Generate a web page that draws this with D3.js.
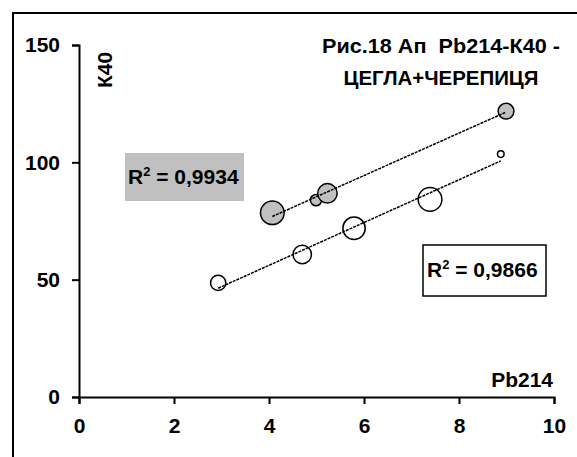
<!DOCTYPE html>
<html>
<head>
<meta charset="utf-8">
<script src="https://cdn.jsdelivr.net/npm/d3@7"></script>
<style>
  body { margin: 0; background: #fff; }
  text { font-family: "Liberation Sans", Arial, sans-serif; font-weight: bold; fill: #000; white-space: pre; }
</style>
</head>
<body>
<svg width="577" height="457"></svg>
<script>
// brick + tile series (grey bubbles)
var greyX = [4.07, 4.99, 5.23, 8.99];
var greyY = [78.5, 83.9, 86.8, 121.8];
var greySize = [140, 32, 95, 62];
// open bubbles
var openX = [2.93, 4.70, 5.79, 7.39, 8.88];
var openY = [48.6, 60.7, 71.9, 84.2, 103.5];
var openSize = [58, 85, 125, 140, 11];

var xTicks = [0, 2, 4, 6, 8, 10];
var yTicks = [0, 50, 100, 150];
var titleLines = ["Рис.18 Ап  Pb214-К40 -", "ЦЕГЛА+ЧЕРЕПИЦЯ"];
var r2Grey = "0,9934", r2Open = "0,9866";

var svg = d3.select("svg");

// outer chart frame (cut off at right/bottom)
svg.append("rect")
  .attr("x", 13).attr("y", 13).attr("width", 600).attr("height", 500)
  .attr("fill", "#fff").attr("stroke", "#000").attr("stroke-width", 2);

var x = d3.scaleLinear().domain([0, 10]).range([79, 554]);
var y = d3.scaleLinear().domain([0, 150]).range([397, 45]);
var r = d3.scaleSqrt().domain([0, 144]).range([0, 12]);

var xAxis = svg.append("g")
  .attr("transform", "translate(0,397)")
  .call(d3.axisBottom(x).tickValues(xTicks).tickSize(7).tickPadding(14).tickSizeOuter(7));
var yAxis = svg.append("g")
  .attr("transform", "translate(79,0)")
  .call(d3.axisLeft(y).tickValues(yTicks).tickSize(7).tickPadding(12).tickSizeOuter(7));

[xAxis, yAxis].forEach(function(g) {
  g.select(".domain").attr("stroke", "#000").attr("stroke-width", 2);
  g.selectAll(".tick line").attr("stroke", "#000").attr("stroke-width", 2);
  g.selectAll(".tick text").attr("font-size", 21).attr("font-family", "Liberation Sans, Arial, sans-serif")
    .attr("font-weight", "bold").attr("fill", "#000");
});

// least squares trend line
function trend(xs, ys) {
  var mx = d3.mean(xs), my = d3.mean(ys);
  var sxy = d3.sum(xs, function(v, i) { return (v - mx) * (ys[i] - my); });
  var sxx = d3.sum(xs, function(v) { return (v - mx) * (v - mx); });
  var b = sxy / sxx, a = my - b * mx;
  var ext = d3.extent(xs);
  return ext.map(function(v) { return [v, a + b * v]; });
}

function bubbles(xs, ys, sizes, fill) {
  svg.append("g").selectAll("circle")
    .data(xs.map(function(v, i) { return {x: v, y: ys[i], s: sizes[i]}; }))
    .join("circle")
    .attr("cx", function(d) { return x(d.x); })
    .attr("cy", function(d) { return y(d.y); })
    .attr("r", function(d) { return r(d.s); })
    .attr("fill", fill).attr("stroke", "#000").attr("stroke-width", 1.5);
}

bubbles(greyX, greyY, greySize, "#c0c0c0");
bubbles(openX, openY, openSize, "#fff");

var line = d3.line().x(function(d) { return x(d[0]); }).y(function(d) { return y(d[1]); });
[trend(greyX, greyY), trend(openX, openY)].forEach(function(t) {
  svg.append("path").attr("d", line(t))
    .attr("fill", "none").attr("stroke", "#000").attr("stroke-width", 1.5)
    .attr("stroke-dasharray", "3,1");
});

// R2 labels
function r2Label(bx, by, bw, bh, val, fill, stroke, tx, ty) {
  svg.append("rect").attr("x", bx).attr("y", by).attr("width", bw).attr("height", bh)
    .attr("fill", fill).attr("stroke", stroke).attr("stroke-width", stroke == "none" ? 0 : 1.5);
  var t = svg.append("text").attr("x", tx).attr("y", ty).attr("font-size", 21);
  t.append("tspan").text("R");
  t.append("tspan").attr("font-size", 13).attr("dy", -8).text("2");
  t.append("tspan").attr("dy", 8).text(" = " + val);
}
r2Label(125, 153, 119, 48, r2Grey, "#c0c0c0", "none", 128, 184);
r2Label(423, 245, 123, 51, r2Open, "#fff", "#000", 427, 277);

// title, squeezed to the widths of the original
var titleWidths = [238, 195];
svg.append("g").selectAll("text").data(titleLines).join("text")
  .attr("x", 441).attr("y", function(d, i) { return 53 + i * 32; })
  .attr("text-anchor", "middle").attr("font-size", 21)
  .attr("textLength", function(d, i) { return titleWidths[i]; })
  .attr("lengthAdjust", "spacingAndGlyphs")
  .text(function(d) { return d; });

// axis titles
svg.append("text").attr("transform", "translate(112,70) rotate(-90)")
  .attr("text-anchor", "middle").attr("font-size", 21).text("К40");
svg.append("text").attr("x", 553).attr("y", 387)
  .attr("text-anchor", "end").attr("font-size", 21).text("Pb214");
</script>
</body>
</html>
